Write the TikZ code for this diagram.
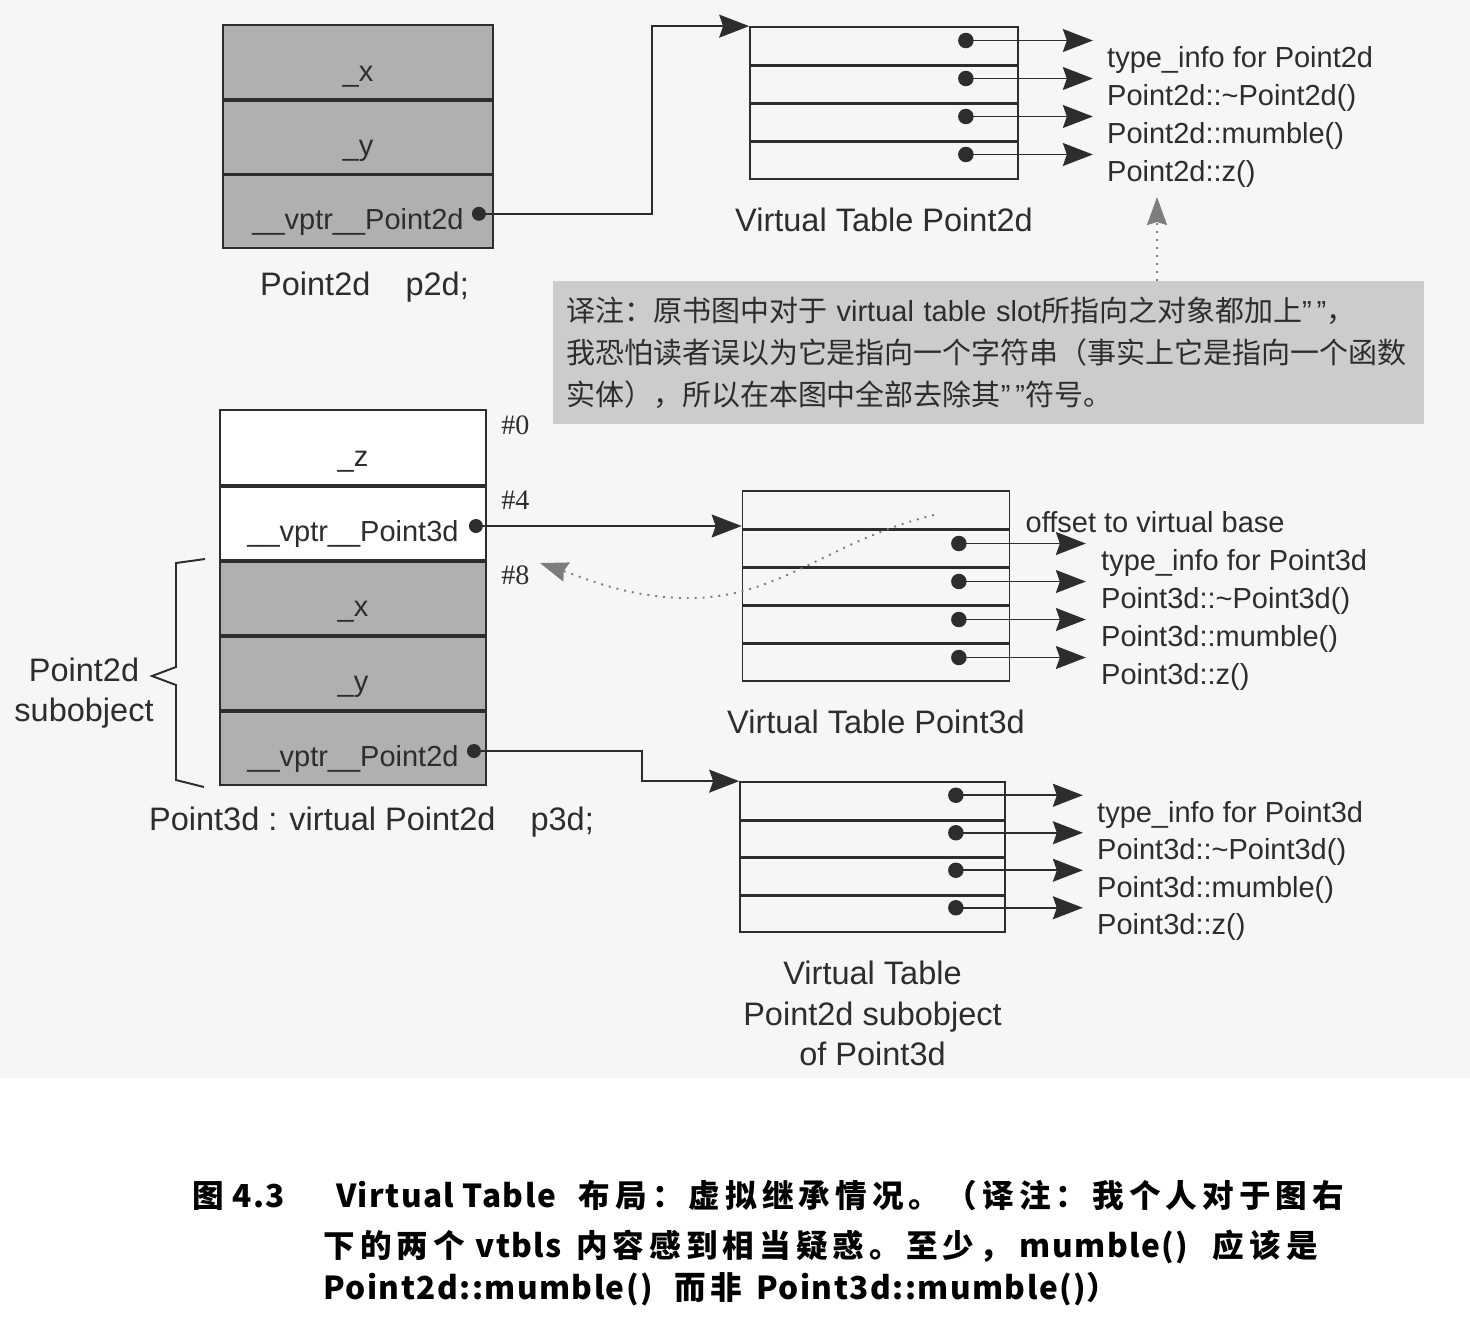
\documentclass[tikz,border=0pt]{standalone}
\usepackage{fontspec}
\setmainfont{Liberation Sans}
\newfontfamily\numfont{Liberation Serif}
\newfontfamily\cjk{Noto Sans CJK SC}
\newfontfamily\capfont{Noto Sans CJK SC}[LetterSpace=16]
\newfontfamily\caplat{Noto Sans CJK SC}[LetterSpace=4.5]
\usetikzlibrary{arrows.meta,positioning}
\definecolor{ink}{RGB}{45,45,45}
\definecolor{cellgray}{RGB}{176,176,176}
\definecolor{notegray}{RGB}{204,204,204}
\definecolor{pagegray}{RGB}{246,246,246}
\definecolor{hintgray}{RGB}{125,125,125}

\begin{document}
\begin{tikzpicture}[x=0.02cm, y=-0.02cm,
  field/.style={draw=ink, line width=1.1pt, fill=white, minimum width=5.32cm, minimum height=1.5cm, inner sep=0pt, text height=7.6mm, text depth=0pt, text=ink, font=\fontsize{16.5}{20}\selectfont},
  basefield/.style={field, fill=cellgray},
  slot/.style={draw=ink, line width=1pt, minimum height=7.6mm, inner sep=0pt},
  divider/.style={draw=ink, line width=1.8pt},
  slotdot/.style={circle, fill=ink, minimum size=3.1mm, inner sep=0pt},
  ptr/.style={draw=ink, line width=0.9pt, -{Stealth[length=6mm, width=4.6mm, inset=0.8mm]}},
  hint/.style={draw=hintgray, line width=1.1pt, dash pattern=on 1.1pt off 3.4pt, -{Stealth[length=5.6mm, width=4mm, inset=0.6mm]}},
  fn/.style={anchor=base west, inner sep=0pt, text=ink, font=\fontsize{16.5}{20}\selectfont},
  objcap/.style={inner sep=0pt, text=ink, font=\fontsize{18.5}{23}\selectfont},
  tabcap/.style={objcap, anchor=north, align=center},
  offs/.style={anchor=base west, inner sep=0pt, text=ink, font=\numfont\fontsize{16}{18}\selectfont},
  brace/.style={draw=ink, line width=1.1pt},
  note/.style={fill=notegray, minimum height=2.86cm, text width=16.9cm, align=left, inner xsep=0.26cm, text=ink, font=\cjk\fontsize{16.5}{23.8}\selectfont},
  figcap/.style={anchor=base west, inner sep=0pt, text=black, font=\capfont\bfseries\fontsize{18}{20}\selectfont}
]
\useasboundingbox (0,0) rectangle (1470,1320);
\fill[white] (0,0) rectangle (1470,1320);
\fill[pagegray] (0,0) rectangle (1470,1078);

% Point2d object
\node[basefield, minimum width=5.4cm, minimum height=1.487cm] (p2dx) at (358,62.2) {\_x};
\node[basefield, minimum width=5.4cm, minimum height=1.487cm] (p2dy) at (358,136.5) {\_y};
\node[basefield, minimum width=5.4cm, minimum height=1.487cm] (p2dvp) at (358,210.8) {\_\_vptr\_\_Point2d};
\draw[divider] (p2dx.south west) -- (p2dx.south east);
\draw[divider] (p2dy.south west) -- (p2dy.south east);
\node[slotdot, minimum size=2.8mm] (p2dptr) at ([xshift=-3mm,yshift=-0.6mm]p2dvp.east) {};
\node[objcap, anchor=base] (p2dlbl) at (364.5,295) {Point2d\hspace{20pt}p2d;};

% Virtual table of Point2d
\foreach \i in {1,...,4}
  \node[slot, minimum width=5.36cm] (v2d\i) at (884,8+38*\i) {};
\foreach \i in {1,2,3}
  \draw[divider] (v2d\i.south west) -- (v2d\i.south east);
\foreach \i/\txt in {1/type\_info for Point2d, 2/Point2d::\textasciitilde Point2d(), 3/Point2d::mumble(), 4/Point2d::z()} {
  \node[slotdot] (v2dd\i) at ([xshift=-10.6mm,yshift=1.1mm]v2d\i.east) {};
  \coordinate (v2dt\i) at ([xshift=14.8mm,yshift=1.1mm]v2d\i.east);
  \draw[ptr] (v2dd\i.center) -- (v2dt\i);
  \node[fn] (v2df\i) at ([xshift=2.8mm,yshift=-5.4mm]v2dt\i) {\txt};
}
\node[tabcap] (v2dcap) at ([yshift=-5.6mm]v2d4.south) {Virtual Table Point2d};
\draw[ptr] (p2dptr.center) -| ([xshift=-1.94cm]v2d1.north west) -- (v2d1.north west);

% Translator's note
\node[note] (note) at (988.5,352.5) {译注：原书图中对于 {\rmfamily virtual table slot}所指向之对象都加上{\rmfamily ”\,”}，\\
我恐怕读者误以为它是指向一个字符串（事实上它是指向一个函数\\
实体），所以在本图中全部去除其{\rmfamily ”\,”}符号。};
\coordinate (ztip) at (1157,197);
\draw[hint] (note.north -| ztip) -- (ztip);

% Point3d object
\node[field] (p3dz) at (353,447.5) {\_z};
\node[field] (p3dvp) at (353,522.5) {\_\_vptr\_\_Point3d};
\node[basefield] (p3dx) at (353,597.5) {\_x};
\node[basefield] (p3dy) at (353,672.5) {\_y};
\node[basefield] (p3dvq) at (353,747.5) {\_\_vptr\_\_Point2d};
\foreach \c in {p3dz,p3dvp,p3dx,p3dy}
  \draw[divider] (\c.south west) -- (\c.south east);
\node[slotdot, minimum size=2.8mm] (p3dptr) at ([xshift=-2.2mm,yshift=-0.7mm]p3dvp.east) {};
\node[slotdot, minimum size=2.8mm] (p3dsub) at ([xshift=-2.6mm,yshift=-0.7mm]p3dvq.east) {};
\foreach \c/\n in {p3dz/0, p3dvp/4, p3dx/8}
  \node[offs] (off\n) at ([xshift=2.8mm,yshift=-5mm]\c.north east) {\#\n};
\node[objcap, anchor=base] (p3dlbl) at (371.5,830) {Point3d : virtual Point2d\hspace{20pt}p3d;};

% Point2d subobject brace
\draw[brace] (205,559) -- (176,563) -- (176,667) -- (152,676) -- (176,685) -- (176,780) -- (204,787);
\node[objcap, align=center] (sublbl) at (84,693) {Point2d\\subobject};

% Virtual table of Point3d
\foreach \i in {1,...,5}
  \node[slot, minimum width=5.34cm] (v3d\i) at (876,472+38*\i) {};
\foreach \i in {1,...,4}
  \draw[divider] (v3d\i.south west) -- (v3d\i.south east);
\foreach \i/\txt in {2/type\_info for Point3d, 3/Point3d::\textasciitilde Point3d(), 4/Point3d::mumble(), 5/Point3d::z()} {
  \node[slotdot] (v3dd\i) at ([xshift=-10.3mm,yshift=0.9mm]v3d\i.east) {};
  \coordinate (v3dt\i) at ([xshift=15.1mm,yshift=0.9mm]v3d\i.east);
  \draw[ptr] (v3dd\i.center) -- (v3dt\i);
  \node[fn] (v3df\i) at ([xshift=3mm,yshift=-5.4mm]v3dt\i) {\txt};
}
\node[fn] (v3doff) at ([xshift=3mm,yshift=-8.4mm]v3d1.north east) {offset to virtual base};
\node[tabcap] (v3dcap) at ([yshift=-5.6mm]v3d5.south) {Virtual Table Point3d};
\draw[ptr] (p3dptr.center) -- (p3dptr -| v3d1.south west);

% offset points back to the virtual base
\coordinate (vbase) at (934,515);
\coordinate (basetip) at (540,563);
\draw[hint] (vbase) .. controls (830,540) and (780,598) .. (690,598) .. controls (630,598) and (590,580) .. (basetip);

% Virtual table of the Point2d subobject
\foreach \i in {1,...,4}
  \node[slot, minimum width=5.3cm, minimum height=7.5mm] (vsub\i) at (872.5,763.25+37.5*\i) {};
\foreach \i in {1,2,3}
  \draw[divider] (vsub\i.south west) -- (vsub\i.south east);
\foreach \i/\txt in {1/type\_info for Point3d, 2/Point3d::\textasciitilde Point3d(), 3/Point3d::mumble(), 4/Point3d::z()} {
  \node[slotdot] (vsubd\i) at ([xshift=-10mm,yshift=1.1mm]vsub\i.east) {};
  \coordinate (vsubt\i) at ([xshift=15.4mm,yshift=1.1mm]vsub\i.east);
  \draw[ptr] (vsubd\i.center) -- (vsubt\i);
  \node[fn] (vsubf\i) at ([xshift=2.8mm,yshift=-5.4mm]vsubt\i) {\txt};
}
\node[tabcap] (vsubcap) at ([yshift=-5.6mm]vsub4.south) {Virtual Table\\Point2d subobject\\of Point3d};
\draw[ptr] (p3dsub.center) -| ([xshift=-1.94cm]vsub1.north west) -- (vsub1.north west);

% Figure caption
\node[figcap] (cap1) at (192,1207) {图\hspace{5pt}{\caplat 4.3}\hspace{29pt}{\caplat Virtual Table}\hspace{13pt}布局：虚拟继承情况。（译注：我个人对于图右};
\node[figcap] (cap2) at (323,1257) {下的两个\hspace{6pt}{\caplat vtbls}\hspace{8pt}内容感到相当疑惑。至少，\hspace{5pt}{\caplat mumble()}\hspace{14pt}应该是};
\node[figcap] (cap3) at (323,1299) {{\caplat Point2d::mumble()}\hspace{12pt}而非\hspace{8pt}{\caplat Point3d::mumble()}）};
\end{tikzpicture}
\end{document}
